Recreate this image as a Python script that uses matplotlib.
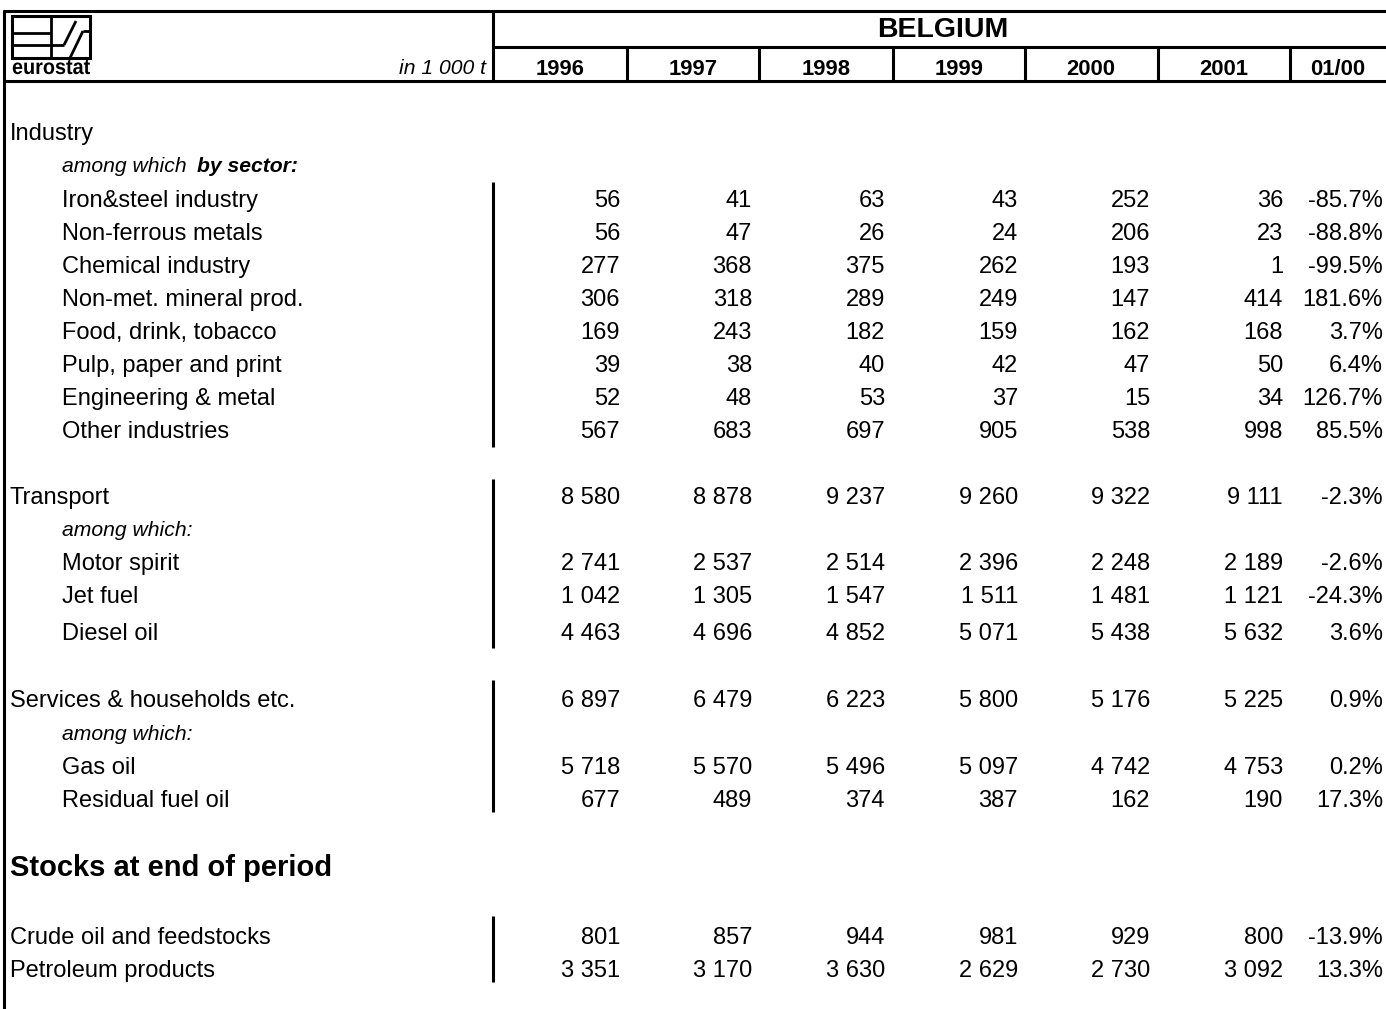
import matplotlib
matplotlib.use("Agg")
import matplotlib.pyplot as plt
from matplotlib.textpath import TextPath
from matplotlib.font_manager import FontProperties
from matplotlib.patches import PathPatch
from matplotlib.path import Path
import numpy as np

# ---------------- data ----------------
country = "BELGIUM"
unit = "in 1 000 t"
years = ["1996", "1997", "1998", "1999", "2000", "2001", "01/00"]

industry_sectors = ["Iron&steel industry", "Non-ferrous metals", "Chemical industry",
                    "Non-met. mineral prod.", "Food, drink, tobacco", "Pulp, paper and print",
                    "Engineering & metal", "Other industries"]
industry_values = [
    [56, 41, 63, 43, 252, 36],
    [56, 47, 26, 24, 206, 23],
    [277, 368, 375, 262, 193, 1],
    [306, 318, 289, 249, 147, 414],
    [169, 243, 182, 159, 162, 168],
    [39, 38, 40, 42, 47, 50],
    [52, 48, 53, 37, 15, 34],
    [567, 683, 697, 905, 538, 998],
]
industry_change = ["-85.7%", "-88.8%", "-99.5%", "181.6%", "3.7%", "6.4%", "126.7%", "85.5%"]

transport_total = [8580, 8878, 9237, 9260, 9322, 9111]
transport_change = "-2.3%"
transport_items = ["Motor spirit", "Jet fuel", "Diesel oil"]
transport_values = [
    [2741, 2537, 2514, 2396, 2248, 2189],
    [1042, 1305, 1547, 1511, 1481, 1121],
    [4463, 4696, 4852, 5071, 5438, 5632],
]
transport_item_change = ["-2.6%", "-24.3%", "3.6%"]

services_total = [6897, 6479, 6223, 5800, 5176, 5225]
services_change = "0.9%"
services_items = ["Gas oil", "Residual fuel oil"]
services_values = [
    [5718, 5570, 5496, 5097, 4742, 4753],
    [677, 489, 374, 387, 162, 190],
]
services_item_change = ["0.2%", "17.3%"]

stock_items = ["Crude oil and feedstocks", "Petroleum products"]
stock_values = [
    [801, 857, 944, 981, 929, 800],
    [3351, 3170, 3630, 2629, 2730, 3092],
]
stock_change = ["-13.9%", "13.3%"]

# ---------------- layout ----------------
W, H = 1386, 1009
fig = plt.figure(figsize=(W / 100, H / 100), dpi=100)
ax = fig.add_axes([0, 0, 1, 1])
ax.set_xlim(0, W)
ax.set_ylim(H, 0)
ax.axis("off")

FONT = "Liberation Sans"
FS = 17.0
FS_SUB = 15.2
LW = 2.2
col_right = [620, 752, 885, 1018, 1150, 1283, 1383]
col_centers = [560, 693, 826, 959, 1091, 1224, 1338]
dividers = [627, 759, 893, 1025, 1158, 1290]
x_main = 10
x_ind = 62
base_off = 8.0


def fmt(v):
    return f"{v:,}".replace(",", " ")


def label(y, text, x=x_ind):
    ax.text(x, y + base_off, text, ha="left", va="baseline", fontsize=FS, family=FONT)


def sublabel(y, text, x=x_ind, **kw):
    ax.text(x, y + base_off - 1, text, ha="left", va="baseline", fontsize=FS_SUB,
            style="italic", family=FONT, **kw)


def values_row(y, vals, change):
    for i, v in enumerate(vals):
        ax.text(col_right[i], y + base_off, fmt(v), ha="right", va="baseline",
                fontsize=FS, family=FONT)
    ax.text(col_right[6], y + base_off, change, ha="right", va="baseline",
            fontsize=FS, family=FONT)


def bar(y0, y1):
    ax.plot([493, 493], [y0, y1], color="black", lw=LW, solid_capstyle="butt")


# frame lines
ax.plot([3, W], [11, 11], color="black", lw=LW, solid_capstyle="butt")
ax.plot([493, W], [47, 47], color="black", lw=LW, solid_capstyle="butt")
ax.plot([3, W], [81, 81], color="black", lw=LW, solid_capstyle="butt")
ax.plot([4, 4], [10, H], color="black", lw=LW, solid_capstyle="butt")
ax.plot([493, 493], [10, 82], color="black", lw=LW, solid_capstyle="butt")
for d in dividers:
    ax.plot([d, d], [47, 82], color="black", lw=LW, solid_capstyle="butt")

# header texts
ax.text((493 + W) / 2 + 3, 37, country, ha="center", va="baseline", fontsize=20.5,
        fontweight="bold", family=FONT)
for c, yr in zip(col_centers, years):
    ax.text(c, 75, yr, ha="center", va="baseline", fontsize=15.8, fontweight="bold", family=FONT)
ax.text(486, 74, unit, ha="right", va="baseline", fontsize=15.2, style="italic", family=FONT)

# logo
lk = dict(color="black", lw=2.0, solid_capstyle="butt")
ax.add_patch(plt.Rectangle((12, 16), 78, 42, fill=False, lw=2.2, ec="black"))
ax.plot([51, 51], [16, 58], **lk)
ax.plot([13, 51], [33, 33], **lk)
ax.plot([13, 64], [45, 45], **lk)
ax.plot([64, 76], [45, 21], **lk)
ax.plot([70, 83], [58, 31], **lk)
ax.plot([83, 90], [31, 31], **lk)
tp = TextPath((0, 0), "eurostat", size=10, prop=FontProperties(family=FONT, weight="bold"))
v = tp.vertices.copy()
xmin, xmax = v[:, 0].min(), v[:, 0].max()
ymax = v[:, 1].max()
sx = 78 / (xmax - xmin)
sy = 14 / ymax
v2 = np.column_stack([12 + (v[:, 0] - xmin) * sx, 74 - v[:, 1] * sy])
ax.add_patch(PathPatch(Path(v2, tp.codes), fc="black", ec="none"))

# Industry block
label(132, "Industry", x=x_main)
sublabel(165, "among which")
sublabel(165, "by sector:", x=197, fontweight="bold")
ind_y = [199, 232, 265, 298, 331, 364, 397, 430]
for y, name, vals, ch in zip(ind_y, industry_sectors, industry_values, industry_change):
    label(y, name)
    values_row(y, vals, ch)
bar(182, 447)

# Transport block
label(496, "Transport", x=x_main)
values_row(496, transport_total, transport_change)
sublabel(529, "among which:")
tr_y = [562, 595, 632]
for y, name, vals, ch in zip(tr_y, transport_items, transport_values, transport_item_change):
    label(y, name)
    values_row(y, vals, ch)
bar(479, 648)

# Services block
label(699, "Services & households etc.", x=x_main)
values_row(699, services_total, services_change)
sublabel(733, "among which:")
sv_y = [766, 799]
for y, name, vals, ch in zip(sv_y, services_items, services_values, services_item_change):
    label(y, name)
    values_row(y, vals, ch)
bar(680, 812)

# Stocks block
ax.text(x_main, 866 + 10, "Stocks at end of period", ha="left", va="baseline", fontsize=21,
        fontweight="bold", family=FONT)
st_y = [936, 969]
for y, name, vals, ch in zip(st_y, stock_items, stock_values, stock_change):
    label(y, name, x=x_main)
    values_row(y, vals, ch)
bar(916, 982)

fig.savefig("out.png", dpi=100)
